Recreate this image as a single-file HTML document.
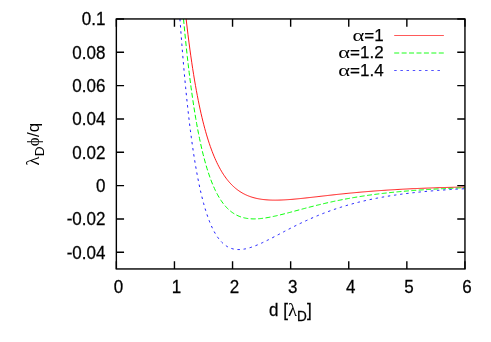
<!DOCTYPE html>
<html><head><meta charset="utf-8"><title>plot</title>
<style>
html,body{margin:0;padding:0;background:#fff;}
svg{display:block;}
text{font-family:"Liberation Sans",sans-serif;font-size:17px;fill:#000;stroke:#000;stroke-width:0.25px;}
.g{font-family:"Liberation Serif",serif;stroke:none;}
</style></head>
<body>
<svg width="491" height="342" viewBox="0 0 491 342">
<rect width="491" height="342" fill="#fff"/>
<g fill="none" stroke-linecap="butt" stroke-linejoin="round">
<path d="M186.14,18.95 L187.07,26.99 L188.00,34.68 L188.93,42.04 L189.86,49.08 L190.79,55.81 L191.72,62.25 L192.65,68.42 L193.58,74.32 L194.51,79.97 L195.44,85.38 L196.37,90.56 L197.30,95.51 L198.23,100.26 L199.16,104.81 L200.09,109.16 L201.01,113.33 L201.94,117.32 L202.87,121.15 L203.80,124.81 L204.73,128.32 L205.66,131.68 L206.59,134.90 L207.52,137.98 L208.45,140.93 L209.38,143.76 L210.31,146.47 L211.24,149.06 L212.17,151.54 L213.10,153.92 L214.03,156.20 L214.95,158.37 L215.88,160.46 L216.81,162.46 L217.74,164.37 L218.67,166.19 L219.60,167.94 L220.53,169.62 L221.46,171.22 L222.39,172.75 L223.32,174.21 L224.25,175.61 L225.18,176.94 L226.11,178.22 L227.04,179.44 L227.97,180.60 L228.89,181.72 L229.82,182.78 L230.75,183.79 L231.68,184.76 L232.61,185.68 L233.54,186.55 L234.47,187.39 L235.40,188.19 L236.33,188.95 L237.26,189.67 L238.19,190.35 L239.12,191.01 L240.05,191.62 L240.98,192.21 L241.91,192.77 L242.84,193.30 L243.76,193.80 L244.69,194.28 L245.62,194.72 L246.55,195.15 L247.48,195.55 L248.41,195.93 L249.34,196.28 L250.27,196.62 L251.20,196.93 L252.13,197.23 L253.06,197.50 L253.99,197.76 L254.92,198.00 L255.85,198.23 L256.78,198.44 L257.70,198.63 L258.63,198.81 L259.56,198.98 L260.49,199.13 L261.42,199.27 L262.35,199.40 L263.28,199.52 L264.21,199.62 L265.14,199.71 L266.07,199.80 L267.00,199.87 L267.93,199.93 L268.86,199.99 L269.79,200.04 L270.72,200.07 L271.65,200.10 L272.57,200.13 L273.50,200.14 L274.43,200.15 L275.36,200.15 L276.29,200.14 L277.22,200.13 L278.15,200.12 L279.08,200.09 L280.01,200.07 L280.94,200.03 L281.87,200.00 L282.80,199.95 L283.73,199.91 L284.66,199.86 L285.59,199.80 L286.51,199.74 L287.44,199.68 L288.37,199.62 L289.30,199.55 L290.23,199.48 L291.16,199.41 L292.09,199.33 L293.02,199.25 L293.95,199.17 L294.88,199.08 L295.81,199.00 L296.74,198.91 L297.67,198.82 L298.60,198.73 L299.53,198.64 L300.45,198.54 L301.38,198.45 L302.31,198.35 L303.24,198.25 L304.17,198.15 L305.10,198.05 L306.03,197.95 L306.96,197.85 L307.89,197.75 L308.82,197.64 L309.75,197.54 L310.68,197.43 L311.61,197.33 L312.54,197.22 L313.47,197.12 L314.40,197.01 L315.32,196.90 L316.25,196.80 L317.18,196.69 L318.11,196.58 L319.04,196.48 L319.97,196.37 L320.90,196.26 L321.83,196.16 L322.76,196.05 L323.69,195.94 L324.62,195.84 L325.55,195.73 L326.48,195.63 L327.41,195.52 L328.34,195.42 L329.26,195.31 L330.19,195.21 L331.12,195.10 L332.05,195.00 L332.98,194.90 L333.91,194.80 L334.84,194.70 L335.77,194.59 L336.70,194.49 L337.63,194.39 L338.56,194.29 L339.49,194.20 L340.42,194.10 L341.35,194.00 L342.28,193.90 L343.21,193.81 L344.13,193.71 L345.06,193.62 L345.99,193.52 L346.92,193.43 L347.85,193.34 L348.78,193.25 L349.71,193.15 L350.64,193.06 L351.57,192.97 L352.50,192.88 L353.43,192.80 L354.36,192.71 L355.29,192.62 L356.22,192.54 L357.15,192.45 L358.07,192.37 L359.00,192.28 L359.93,192.20 L360.86,192.12 L361.79,192.04 L362.72,191.96 L363.65,191.88 L364.58,191.80 L365.51,191.72 L366.44,191.64 L367.37,191.57 L368.30,191.49 L369.23,191.42 L370.16,191.34 L371.09,191.27 L372.01,191.20 L372.94,191.12 L373.87,191.05 L374.80,190.98 L375.73,190.91 L376.66,190.84 L377.59,190.77 L378.52,190.71 L379.45,190.64 L380.38,190.57 L381.31,190.51 L382.24,190.45 L383.17,190.38 L384.10,190.32 L385.03,190.26 L385.96,190.19 L386.88,190.13 L387.81,190.07 L388.74,190.01 L389.67,189.95 L390.60,189.90 L391.53,189.84 L392.46,189.78 L393.39,189.73 L394.32,189.67 L395.25,189.62 L396.18,189.56 L397.11,189.51 L398.04,189.46 L398.97,189.40 L399.90,189.35 L400.82,189.30 L401.75,189.25 L402.68,189.20 L403.61,189.15 L404.54,189.10 L405.47,189.06 L406.40,189.01 L407.33,188.96 L408.26,188.92 L409.19,188.87 L410.12,188.82 L411.05,188.78 L411.98,188.74 L412.91,188.69 L413.84,188.65 L414.77,188.61 L415.69,188.57 L416.62,188.53 L417.55,188.49 L418.48,188.45 L419.41,188.41 L420.34,188.37 L421.27,188.33 L422.20,188.29 L423.13,188.25 L424.06,188.22 L424.99,188.18 L425.92,188.14 L426.85,188.11 L427.78,188.07 L428.71,188.04 L429.63,188.00 L430.56,187.97 L431.49,187.94 L432.42,187.90 L433.35,187.87 L434.28,187.84 L435.21,187.81 L436.14,187.78 L437.07,187.75 L438.00,187.71 L438.93,187.68 L439.86,187.66 L440.79,187.63 L441.72,187.60 L442.65,187.57 L443.57,187.54 L444.50,187.51 L445.43,187.49 L446.36,187.46 L447.29,187.43 L448.22,187.41 L449.15,187.38 L450.08,187.36 L451.01,187.33 L451.94,187.31 L452.87,187.28 L453.80,187.26 L454.73,187.23 L455.66,187.21 L456.59,187.19 L457.52,187.16 L458.44,187.14 L459.37,187.12 L460.30,187.10 L461.23,187.08 L462.16,187.06 L463.09,187.03 L464.02,187.01 L464.95,186.99" stroke="#ff0000" stroke-width="0.9"/>
<path d="M183.53,18.95 L184.47,28.99 L185.41,38.56 L186.34,47.68 L187.28,56.36 L188.22,64.64 L189.16,72.53 L190.10,80.04 L191.03,87.21 L191.97,94.03 L192.91,100.54 L193.85,106.74 L194.79,112.66 L195.72,118.29 L196.66,123.66 L197.60,128.78 L198.54,133.66 L199.48,138.30 L200.42,142.73 L201.35,146.95 L202.29,150.97 L203.23,154.80 L204.17,158.44 L205.11,161.91 L206.04,165.22 L206.98,168.36 L207.92,171.35 L208.86,174.20 L209.80,176.91 L210.73,179.48 L211.67,181.93 L212.61,184.25 L213.55,186.46 L214.49,188.56 L215.42,190.55 L216.36,192.44 L217.30,194.23 L218.24,195.92 L219.18,197.53 L220.11,199.05 L221.05,200.49 L221.99,201.85 L222.93,203.14 L223.87,204.36 L224.80,205.50 L225.74,206.58 L226.68,207.60 L227.62,208.55 L228.56,209.45 L229.50,210.29 L230.43,211.08 L231.37,211.82 L232.31,212.51 L233.25,213.16 L234.19,213.76 L235.12,214.32 L236.06,214.83 L237.00,215.31 L237.94,215.75 L238.88,216.16 L239.81,216.53 L240.75,216.87 L241.69,217.18 L242.63,217.45 L243.57,217.70 L244.50,217.93 L245.44,218.12 L246.38,218.30 L247.32,218.44 L248.26,218.57 L249.19,218.67 L250.13,218.76 L251.07,218.82 L252.01,218.87 L252.95,218.90 L253.88,218.91 L254.82,218.90 L255.76,218.88 L256.70,218.85 L257.64,218.80 L258.58,218.73 L259.51,218.66 L260.45,218.57 L261.39,218.47 L262.33,218.37 L263.27,218.25 L264.20,218.12 L265.14,217.98 L266.08,217.83 L267.02,217.68 L267.96,217.52 L268.89,217.35 L269.83,217.17 L270.77,216.99 L271.71,216.80 L272.65,216.60 L273.58,216.40 L274.52,216.20 L275.46,215.99 L276.40,215.77 L277.34,215.56 L278.27,215.33 L279.21,215.11 L280.15,214.88 L281.09,214.65 L282.03,214.41 L282.97,214.18 L283.90,213.94 L284.84,213.70 L285.78,213.45 L286.72,213.21 L287.66,212.96 L288.59,212.72 L289.53,212.47 L290.47,212.22 L291.41,211.97 L292.35,211.72 L293.28,211.47 L294.22,211.21 L295.16,210.96 L296.10,210.71 L297.04,210.46 L297.97,210.20 L298.91,209.95 L299.85,209.70 L300.79,209.45 L301.73,209.20 L302.66,208.95 L303.60,208.70 L304.54,208.45 L305.48,208.20 L306.42,207.96 L307.35,207.71 L308.29,207.47 L309.23,207.22 L310.17,206.98 L311.11,206.74 L312.05,206.50 L312.98,206.26 L313.92,206.03 L314.86,205.79 L315.80,205.56 L316.74,205.32 L317.67,205.09 L318.61,204.86 L319.55,204.63 L320.49,204.41 L321.43,204.18 L322.36,203.96 L323.30,203.74 L324.24,203.52 L325.18,203.30 L326.12,203.09 L327.05,202.87 L327.99,202.66 L328.93,202.45 L329.87,202.24 L330.81,202.03 L331.74,201.83 L332.68,201.63 L333.62,201.42 L334.56,201.22 L335.50,201.03 L336.43,200.83 L337.37,200.64 L338.31,200.45 L339.25,200.26 L340.19,200.07 L341.13,199.88 L342.06,199.70 L343.00,199.51 L343.94,199.33 L344.88,199.16 L345.82,198.98 L346.75,198.80 L347.69,198.63 L348.63,198.46 L349.57,198.29 L350.51,198.12 L351.44,197.96 L352.38,197.79 L353.32,197.63 L354.26,197.47 L355.20,197.31 L356.13,197.16 L357.07,197.00 L358.01,196.85 L358.95,196.70 L359.89,196.55 L360.82,196.40 L361.76,196.25 L362.70,196.11 L363.64,195.97 L364.58,195.83 L365.51,195.69 L366.45,195.55 L367.39,195.41 L368.33,195.28 L369.27,195.15 L370.21,195.01 L371.14,194.88 L372.08,194.76 L373.02,194.63 L373.96,194.51 L374.90,194.38 L375.83,194.26 L376.77,194.14 L377.71,194.02 L378.65,193.90 L379.59,193.79 L380.52,193.67 L381.46,193.56 L382.40,193.45 L383.34,193.34 L384.28,193.23 L385.21,193.12 L386.15,193.02 L387.09,192.91 L388.03,192.81 L388.97,192.71 L389.90,192.61 L390.84,192.51 L391.78,192.41 L392.72,192.32 L393.66,192.22 L394.59,192.13 L395.53,192.03 L396.47,191.94 L397.41,191.85 L398.35,191.76 L399.29,191.67 L400.22,191.59 L401.16,191.50 L402.10,191.42 L403.04,191.33 L403.98,191.25 L404.91,191.17 L405.85,191.09 L406.79,191.01 L407.73,190.93 L408.67,190.86 L409.60,190.78 L410.54,190.71 L411.48,190.63 L412.42,190.56 L413.36,190.49 L414.29,190.42 L415.23,190.35 L416.17,190.28 L417.11,190.21 L418.05,190.14 L418.98,190.08 L419.92,190.01 L420.86,189.95 L421.80,189.89 L422.74,189.82 L423.68,189.76 L424.61,189.70 L425.55,189.64 L426.49,189.58 L427.43,189.52 L428.37,189.47 L429.30,189.41 L430.24,189.35 L431.18,189.30 L432.12,189.25 L433.06,189.19 L433.99,189.14 L434.93,189.09 L435.87,189.04 L436.81,188.99 L437.75,188.94 L438.68,188.89 L439.62,188.84 L440.56,188.79 L441.50,188.74 L442.44,188.70 L443.37,188.65 L444.31,188.61 L445.25,188.56 L446.19,188.52 L447.13,188.48 L448.06,188.43 L449.00,188.39 L449.94,188.35 L450.88,188.31 L451.82,188.27 L452.76,188.23 L453.69,188.19 L454.63,188.15 L455.57,188.11 L456.51,188.08 L457.45,188.04 L458.38,188.00 L459.32,187.97 L460.26,187.93 L461.20,187.90 L462.14,187.86 L463.07,187.83 L464.01,187.80 L464.95,187.76" stroke="#00ff00" stroke-width="1.0" stroke-dasharray="5.0 2.43"/>
<path d="M179.95,18.95 L180.90,31.98 L181.85,44.33 L182.80,56.05 L183.75,67.16 L184.70,77.70 L185.65,87.70 L186.60,97.18 L187.55,106.18 L188.50,114.70 L189.45,122.79 L190.40,130.46 L191.35,137.73 L192.30,144.63 L193.25,151.16 L194.20,157.35 L195.15,163.22 L196.10,168.77 L197.05,174.03 L198.00,179.01 L198.95,183.73 L199.90,188.19 L200.85,192.41 L201.80,196.39 L202.75,200.16 L203.70,203.72 L204.65,207.08 L205.60,210.25 L206.55,213.23 L207.50,216.05 L208.45,218.70 L209.40,221.19 L210.35,223.53 L211.30,225.73 L212.25,227.79 L213.20,229.73 L214.15,231.54 L215.10,233.23 L216.05,234.81 L217.00,236.28 L217.95,237.65 L218.90,238.92 L219.85,240.10 L220.80,241.19 L221.75,242.20 L222.70,243.12 L223.65,243.97 L224.60,244.74 L225.55,245.45 L226.50,246.08 L227.45,246.66 L228.40,247.17 L229.35,247.63 L230.30,248.03 L231.25,248.38 L232.20,248.68 L233.15,248.93 L234.10,249.13 L235.05,249.30 L236.00,249.42 L236.95,249.51 L237.90,249.56 L238.85,249.57 L239.80,249.55 L240.75,249.50 L241.70,249.42 L242.65,249.31 L243.60,249.17 L244.55,249.01 L245.50,248.82 L246.45,248.61 L247.40,248.38 L248.35,248.13 L249.30,247.86 L250.25,247.58 L251.20,247.27 L252.15,246.95 L253.10,246.62 L254.05,246.27 L255.00,245.90 L255.95,245.53 L256.90,245.14 L257.85,244.74 L258.80,244.33 L259.75,243.91 L260.70,243.49 L261.65,243.05 L262.60,242.61 L263.55,242.16 L264.50,241.70 L265.45,241.24 L266.40,240.77 L267.35,240.30 L268.30,239.83 L269.25,239.35 L270.20,238.86 L271.15,238.38 L272.10,237.89 L273.05,237.39 L274.00,236.90 L274.95,236.40 L275.90,235.91 L276.85,235.41 L277.80,234.91 L278.75,234.41 L279.70,233.91 L280.65,233.41 L281.60,232.91 L282.55,232.41 L283.50,231.92 L284.45,231.42 L285.40,230.92 L286.35,230.43 L287.30,229.94 L288.25,229.44 L289.20,228.95 L290.15,228.47 L291.10,227.98 L292.05,227.50 L293.00,227.02 L293.95,226.54 L294.90,226.06 L295.85,225.59 L296.80,225.12 L297.75,224.65 L298.70,224.19 L299.65,223.73 L300.60,223.27 L301.55,222.81 L302.50,222.36 L303.45,221.91 L304.40,221.47 L305.35,221.03 L306.30,220.59 L307.25,220.16 L308.20,219.72 L309.15,219.30 L310.10,218.87 L311.05,218.45 L312.00,218.04 L312.95,217.63 L313.90,217.22 L314.85,216.81 L315.80,216.41 L316.75,216.02 L317.70,215.62 L318.65,215.23 L319.60,214.85 L320.55,214.47 L321.50,214.09 L322.45,213.71 L323.40,213.34 L324.35,212.98 L325.30,212.61 L326.25,212.26 L327.20,211.90 L328.15,211.55 L329.10,211.20 L330.05,210.86 L331.00,210.52 L331.95,210.18 L332.90,209.85 L333.85,209.52 L334.80,209.20 L335.75,208.88 L336.70,208.56 L337.65,208.25 L338.60,207.94 L339.55,207.63 L340.50,207.33 L341.45,207.03 L342.40,206.73 L343.35,206.44 L344.30,206.15 L345.25,205.87 L346.20,205.59 L347.15,205.31 L348.10,205.03 L349.05,204.76 L350.00,204.49 L350.95,204.23 L351.90,203.97 L352.85,203.71 L353.80,203.45 L354.75,203.20 L355.70,202.95 L356.65,202.71 L357.60,202.47 L358.55,202.23 L359.50,201.99 L360.45,201.76 L361.40,201.53 L362.35,201.30 L363.30,201.08 L364.25,200.86 L365.20,200.64 L366.15,200.42 L367.10,200.21 L368.05,200.00 L369.00,199.79 L369.95,199.59 L370.90,199.39 L371.85,199.19 L372.80,198.99 L373.75,198.80 L374.70,198.61 L375.65,198.42 L376.60,198.23 L377.55,198.05 L378.50,197.87 L379.45,197.69 L380.40,197.51 L381.35,197.34 L382.30,197.17 L383.25,197.00 L384.20,196.83 L385.15,196.67 L386.10,196.51 L387.05,196.35 L388.00,196.19 L388.95,196.03 L389.90,195.88 L390.85,195.73 L391.80,195.58 L392.75,195.43 L393.70,195.29 L394.65,195.14 L395.60,195.00 L396.55,194.86 L397.50,194.73 L398.45,194.59 L399.40,194.46 L400.35,194.33 L401.30,194.20 L402.25,194.07 L403.20,193.94 L404.15,193.82 L405.10,193.70 L406.05,193.58 L407.00,193.46 L407.95,193.34 L408.90,193.23 L409.85,193.11 L410.80,193.00 L411.75,192.89 L412.70,192.78 L413.65,192.67 L414.60,192.57 L415.55,192.46 L416.50,192.36 L417.45,192.26 L418.40,192.16 L419.35,192.06 L420.30,191.96 L421.25,191.87 L422.20,191.77 L423.15,191.68 L424.10,191.59 L425.05,191.50 L426.00,191.41 L426.95,191.32 L427.90,191.24 L428.85,191.15 L429.80,191.07 L430.75,190.98 L431.70,190.90 L432.65,190.82 L433.60,190.74 L434.55,190.67 L435.50,190.59 L436.45,190.51 L437.40,190.44 L438.35,190.37 L439.30,190.29 L440.25,190.22 L441.20,190.15 L442.15,190.08 L443.10,190.02 L444.05,189.95 L445.00,189.88 L445.95,189.82 L446.90,189.75 L447.85,189.69 L448.80,189.63 L449.75,189.57 L450.70,189.51 L451.65,189.45 L452.60,189.39 L453.55,189.33 L454.50,189.27 L455.45,189.22 L456.40,189.16 L457.35,189.11 L458.30,189.05 L459.25,189.00 L460.20,188.95 L461.15,188.90 L462.10,188.85 L463.05,188.80 L464.00,188.75 L464.95,188.70" stroke="#0000ff" stroke-width="0.9" stroke-dasharray="2.4 3.78"/>
<path d="M394.2,35.5 H443.9" stroke="#ff0000" stroke-width="0.65"/>
<path d="M394.2,53.0 H443.9" stroke="#00ff00" stroke-width="0.9" stroke-dasharray="5.0 2.43"/>
<path d="M394.2,70.5 H443.2" stroke="#0000ff" stroke-width="0.68" stroke-dasharray="2.5 3.68"/>
</g>
<g fill="none" stroke="#000" stroke-width="1.4">
<rect x="116.35" y="18.95" width="348.60" height="250.00"/>
<path d="M116.35,18.95 h7.7 M464.95,18.95 h-7.7 M116.35,52.28 h7.7 M464.95,52.28 h-7.7 M116.35,85.62 h7.7 M464.95,85.62 h-7.7 M116.35,118.95 h7.7 M464.95,118.95 h-7.7 M116.35,152.28 h7.7 M464.95,152.28 h-7.7 M116.35,185.62 h7.7 M464.95,185.62 h-7.7 M116.35,218.95 h7.7 M464.95,218.95 h-7.7 M116.35,252.28 h7.7 M464.95,252.28 h-7.7 M116.35,268.95 v-7.7 M116.35,18.95 v7.7 M174.45,268.95 v-7.7 M174.45,18.95 v7.7 M232.55,268.95 v-7.7 M232.55,18.95 v7.7 M290.65,268.95 v-7.7 M290.65,18.95 v7.7 M348.75,268.95 v-7.7 M348.75,18.95 v7.7 M406.85,268.95 v-7.7 M406.85,18.95 v7.7 M464.95,268.95 v-7.7 M464.95,18.95 v7.7 "/>
</g>
<g style="filter:blur(0.3px)">
<text transform="translate(105.40,25.45) scale(1.000,1.090)" text-anchor="end">0.1</text>
<text transform="translate(105.40,58.78) scale(1.000,1.090)" text-anchor="end">0.08</text>
<text transform="translate(105.40,92.12) scale(1.000,1.090)" text-anchor="end">0.06</text>
<text transform="translate(105.40,125.45) scale(1.000,1.090)" text-anchor="end">0.04</text>
<text transform="translate(105.40,158.78) scale(1.000,1.090)" text-anchor="end">0.02</text>
<text transform="translate(105.40,192.12) scale(1.000,1.090)" text-anchor="end">0</text>
<text transform="translate(105.40,225.45) scale(1.000,1.090)" text-anchor="end">-0.02</text>
<text transform="translate(105.40,258.78) scale(1.000,1.090)" text-anchor="end">-0.04</text>
<text transform="translate(118.35,292.80) scale(1.000,1.090)" text-anchor="middle">0</text>
<text transform="translate(176.45,292.80) scale(1.000,1.090)" text-anchor="middle">1</text>
<text transform="translate(234.55,292.80) scale(1.000,1.090)" text-anchor="middle">2</text>
<text transform="translate(292.65,292.80) scale(1.000,1.090)" text-anchor="middle">3</text>
<text transform="translate(350.75,292.80) scale(1.000,1.090)" text-anchor="middle">4</text>
<text transform="translate(408.85,292.80) scale(1.000,1.090)" text-anchor="middle">5</text>
<text transform="translate(466.95,292.80) scale(1.000,1.090)" text-anchor="middle">6</text>
<text transform="translate(383.60,41.30) scale(1.000,1.000)" text-anchor="end">=1</text>
<text transform="translate(364.32,41.30) scale(1.330,1.000)" text-anchor="end" class="g">α</text>
<text transform="translate(383.60,58.40) scale(1.000,1.000)" text-anchor="end">=1.2</text>
<text transform="translate(350.14,58.40) scale(1.330,1.000)" text-anchor="end" class="g">α</text>
<text transform="translate(383.60,76.00) scale(1.000,1.000)" text-anchor="end">=1.4</text>
<text transform="translate(350.14,76.00) scale(1.330,1.000)" text-anchor="end" class="g">α</text>
<text transform="translate(269.00,316.40) scale(1.000,1.040)" text-anchor="start">d [<tspan class="g" font-size="18.7px">λ</tspan><tspan dx="0.0" dy="4.8" font-size="13.6px">D</tspan><tspan dx="0.3" dy="-4.8">]</tspan></text>
</g>
<g style="filter:blur(0.2px)">
<text transform="translate(38.8,165.6) rotate(-90)" style="stroke:none"><tspan class="g" font-size="18.7px">λ</tspan><tspan dx="0.2" dy="5.2" font-size="13.6px">D</tspan><tspan dx="0.2" dy="-5.2" class="g">ϕ</tspan><tspan dx="0.4">/q</tspan></text>
</g>
</svg>
</body></html>
